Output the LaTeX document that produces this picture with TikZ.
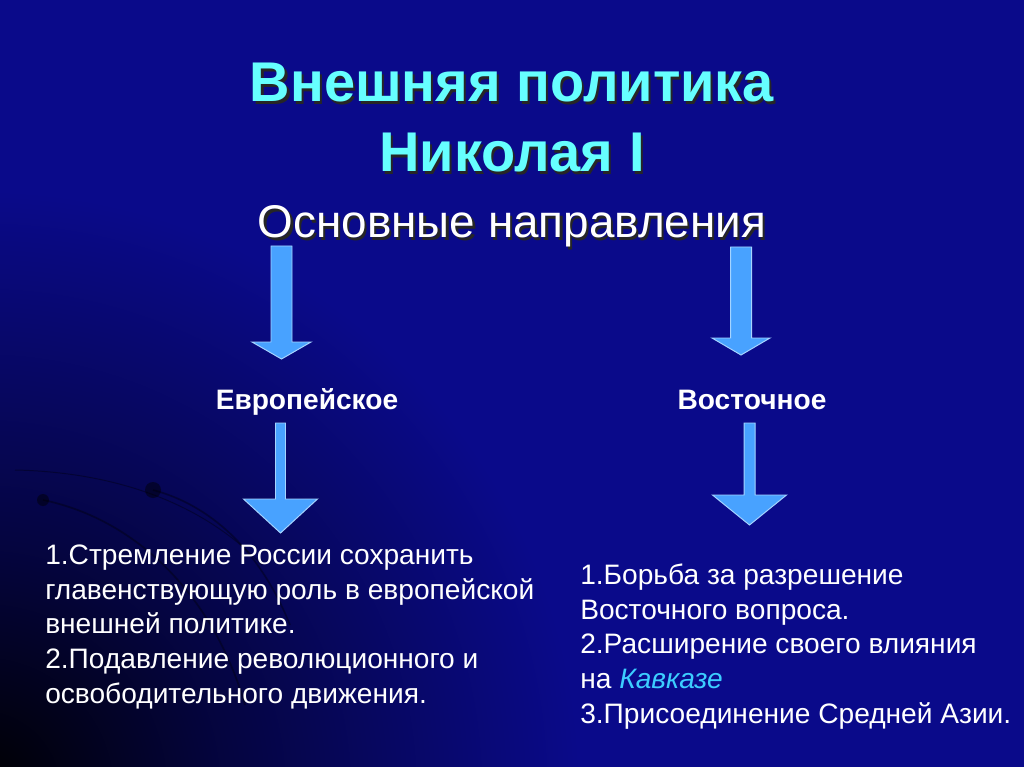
\documentclass[tikz,border=0pt]{standalone}
\usepackage{fontspec}
\setmainfont{Liberation Sans}
\usepackage{tikz}
\usetikzlibrary{calc}

\definecolor{bgblue}{RGB}{10,10,138}
\definecolor{titlecyan}{RGB}{102,255,255}
\definecolor{arrowfill}{RGB}{72,162,255}
\definecolor{arrowedge}{RGB}{165,212,255}
\definecolor{kavkaz}{RGB}{60,205,255}
\colorlet{bgdark}{bgblue!45!black}

\pgfdeclareradialshading{cornerglow}{\pgfpointorigin}{%
  color(0bp)=(black); color(10bp)=(bgdark); color(25bp)=(bgblue); color(50bp)=(bgblue)}

\newcommand{\shadowed}[1]{\leavevmode\rlap{\kern1.5pt\raisebox{-1.5pt}{\color{black!85}#1}}#1}

% block arrow from (#1) down to tip (#2); shaft half, head half, head length
\newcommand{\blockarrow}[5]{%
  \filldraw[bigarrow] ($(#1)+(-#3,0)$) -- ($(#2)+(-#3,-#5)$) -- ($(#2)+(-#4,-#5)$)
    -- (#2) -- ($(#2)+(#4,-#5)$) -- ($(#2)+(#3,-#5)$) -- ($(#1)+(#3,0)$) -- cycle;}

\tikzset{
  bigarrow/.style={fill=arrowfill, draw=arrowedge, line width=0.7pt, line join=miter},
  titletext/.style={font=\bfseries\fontsize{39.8}{49.8}\selectfont, text=titlecyan,
    align=center, inner sep=0pt},
  subtext/.style={font=\fontsize{32.6}{40}\selectfont, text=white, inner sep=0pt},
  dirtext/.style={font=\bfseries\fontsize{20}{24}\selectfont, text=white, inner sep=0pt},
  listtext/.style={font=\fontsize{20}{24.6}\selectfont, text=white, align=left,
    inner sep=0pt},
  swirl/.style={draw=black, opacity=0.35, line width=1.2pt},
}

\begin{document}
\begin{tikzpicture}[x=0.025cm, y=-0.025cm]
  % background
  \useasboundingbox (0,0) rectangle (1024,767);
  \fill[bgblue] (0,0) rectangle (1024,767);
  \begin{scope}
    \clip (0,0) rectangle (1024,767);
    \shade[shading=cornerglow] (-20,790) circle (600);
    \draw[swirl] (43,500) .. controls (140,520) and (215,600) .. (245,705);
    \draw[swirl] (153,490) .. controls (210,505) and (260,550) .. (290,625);
    \draw[swirl, line width=0.7pt] (15,470) .. controls (110,472) and (200,500) .. (262,565);
    \fill[black, opacity=0.45] (43,500) circle (6);
    \fill[black, opacity=0.45] (153,490) circle (8);
  \end{scope}

  % texts
  \node[titletext, anchor=base] (title) at (512,172)
    {\shadowed{Внешняя политика}\\\shadowed{Николая I}};
  \node[subtext, anchor=base] (sub) at (512,238) {\shadowed{Основные направления}};
  \node[dirtext, anchor=base] (europe) at (307,409) {Европейское};
  \node[dirtext, anchor=base] (east) at (752,409) {Восточное};
  \node[listtext, anchor=base west] (eulist) at (45,703)
    {1.Стремление России сохранить\\
     главенствующую роль в европейской\\
     внешней политике.\\
     2.Подавление революционного и\\
     освободительного движения.};
  \node[listtext, anchor=base west] (eastlist) at (580,723)
    {1.Борьба за разрешение\\
     Восточного вопроса.\\
     2.Расширение своего влияния\\
     на \textit{\color{kavkaz}Кавказе}\\
     3.Присоединение Средней Азии.};

  % arrows
  \coordinate (a1s) at (281.5,246);
  \coordinate (a1e) at (281.5,359);
  \coordinate (a2s) at (741,247);
  \coordinate (a2e) at (741,355);
  \coordinate (a3s) at (280.5,423);
  \coordinate (a3e) at (280.5,533);
  \coordinate (a4s) at (749.5,423);
  \coordinate (a4e) at (749.5,525);
  \blockarrow{a1s}{a1e}{10.5}{29.5}{17}
  \blockarrow{a2s}{a2e}{10.5}{29}{17}
  \blockarrow{a3s}{a3e}{5}{37}{34}
  \blockarrow{a4s}{a4e}{5.5}{37}{30}
\end{tikzpicture}
\end{document}
